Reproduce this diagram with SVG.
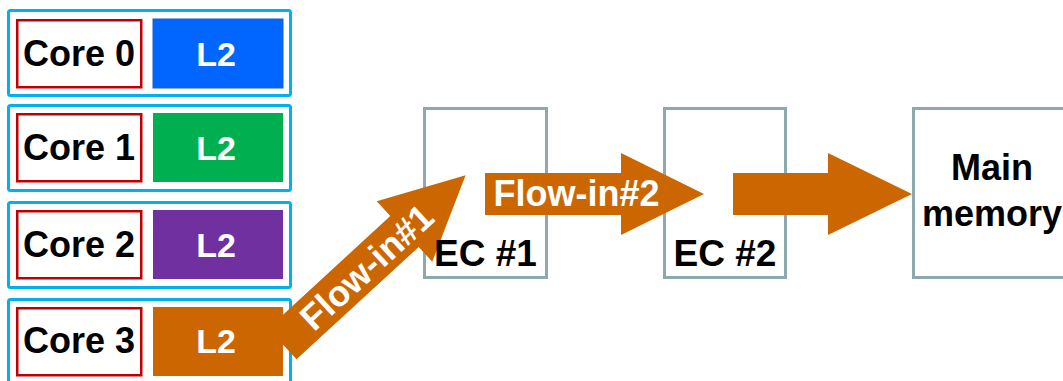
<svg xmlns="http://www.w3.org/2000/svg" width="1063" height="381" viewBox="0 0 1063 381">
  <style>
    .cluster { fill: #ffffff; stroke: #00B0F0; stroke-width: 3; }
    .core { fill: #ffffff; stroke: #C00000; stroke-width: 2.5; }
    .ec { fill: #ffffff; stroke: #8EA9AD; stroke-width: 3; }
    .lbl { font-family: "Liberation Sans", Arial, sans-serif; font-weight: bold; font-size: 36px; text-anchor: middle; fill: #000000; }
    .eclbl { font-size: 37px; }
    .l2txt { font-family: "Liberation Sans", Arial, sans-serif; font-weight: bold; font-size: 34px; text-anchor: middle; fill: #ffffff; }
    .flowtxt { font-family: "Liberation Sans", Arial, sans-serif; font-weight: bold; font-size: 36px; text-anchor: middle; fill: #ffffff; }
    .flow { fill: #CC6600; }
  </style>
  <rect width="1063" height="381" fill="#ffffff"/>

  <!-- core clusters: core + private L2 -->
  <g id="cluster0">
    <rect class="cluster" x="8.5" y="10.5" width="282" height="85" rx="2"/>
    <rect class="core" x="17.25" y="20.25" width="124" height="67"/>
    <rect x="153" y="19" width="130" height="69" fill="#0066FF" stroke="#1A5FC8" stroke-width="1"/>
    <text class="lbl" x="79" y="66">Core 0</text>
    <text class="l2txt" x="216" y="66">L2</text>
  </g>
  <g id="cluster1">
    <rect class="cluster" x="8.5" y="105.5" width="282" height="85" rx="2"/>
    <rect class="core" x="17.25" y="114.25" width="124" height="67"/>
    <rect x="153" y="113" width="130" height="69" fill="#00B050"/>
    <text class="lbl" x="79" y="160">Core 1</text>
    <text class="l2txt" x="216" y="160">L2</text>
  </g>
  <g id="cluster2">
    <rect class="cluster" x="8.5" y="202.5" width="282" height="85" rx="2"/>
    <rect class="core" x="17.25" y="211.25" width="124" height="67"/>
    <rect x="153" y="210" width="130" height="69" fill="#7030A0"/>
    <text class="lbl" x="79" y="257">Core 2</text>
    <text class="l2txt" x="216" y="257">L2</text>
  </g>
  <g id="cluster3">
    <rect class="cluster" x="8.5" y="299.5" width="282" height="90" rx="2"/>
    <rect class="core" x="17.25" y="308.25" width="124" height="67"/>
    <rect x="153" y="307" width="130" height="69" fill="#CC6600"/>
    <text class="lbl" x="79" y="353">Core 3</text>
    <text class="l2txt" x="216" y="353">L2</text>
  </g>

  <!-- cache levels and memory -->
  <g id="ec1">
    <rect class="ec" x="424.5" y="108.5" width="122" height="169"/>
  </g>
  <g id="ec2">
    <rect class="ec" x="664.5" y="108.5" width="121" height="169"/>
  </g>
  <g id="mainmem">
    <rect class="ec" x="913.5" y="108.5" width="160" height="169"/>
    <text class="lbl" x="992" y="180">Main</text>
    <text class="lbl" x="992" y="226">memory</text>
  </g>

  <!-- flow arrows -->
  <g id="connectors">
    <g transform="translate(404.5,231.5) rotate(-42.6)">
      <path class="flow" d="M -166,-21 L 0,-21 L 0,-41 L 83,0 L 0,41 L 0,21 L -166,21 Z"/>
      <text class="flowtxt" x="-52" y="13">Flow-in#1</text>
    </g>
    <path class="flow" d="M 485,173 L 621,173 L 621,153 L 704,194 L 621,235 L 621,215 L 485,215 Z"/>
    <text class="flowtxt" x="576.5" y="206">Flow-in#2</text>
    <path class="flow" d="M 733,173 L 828,173 L 828,153 L 912,194 L 828,235 L 828,215 L 733,215 Z"/>
  </g>

  <!-- cache labels drawn above the arrows -->
  <text class="lbl eclbl" x="485.5" y="266">EC #1</text>
  <text class="lbl eclbl" x="725" y="266">EC #2</text>
</svg>
